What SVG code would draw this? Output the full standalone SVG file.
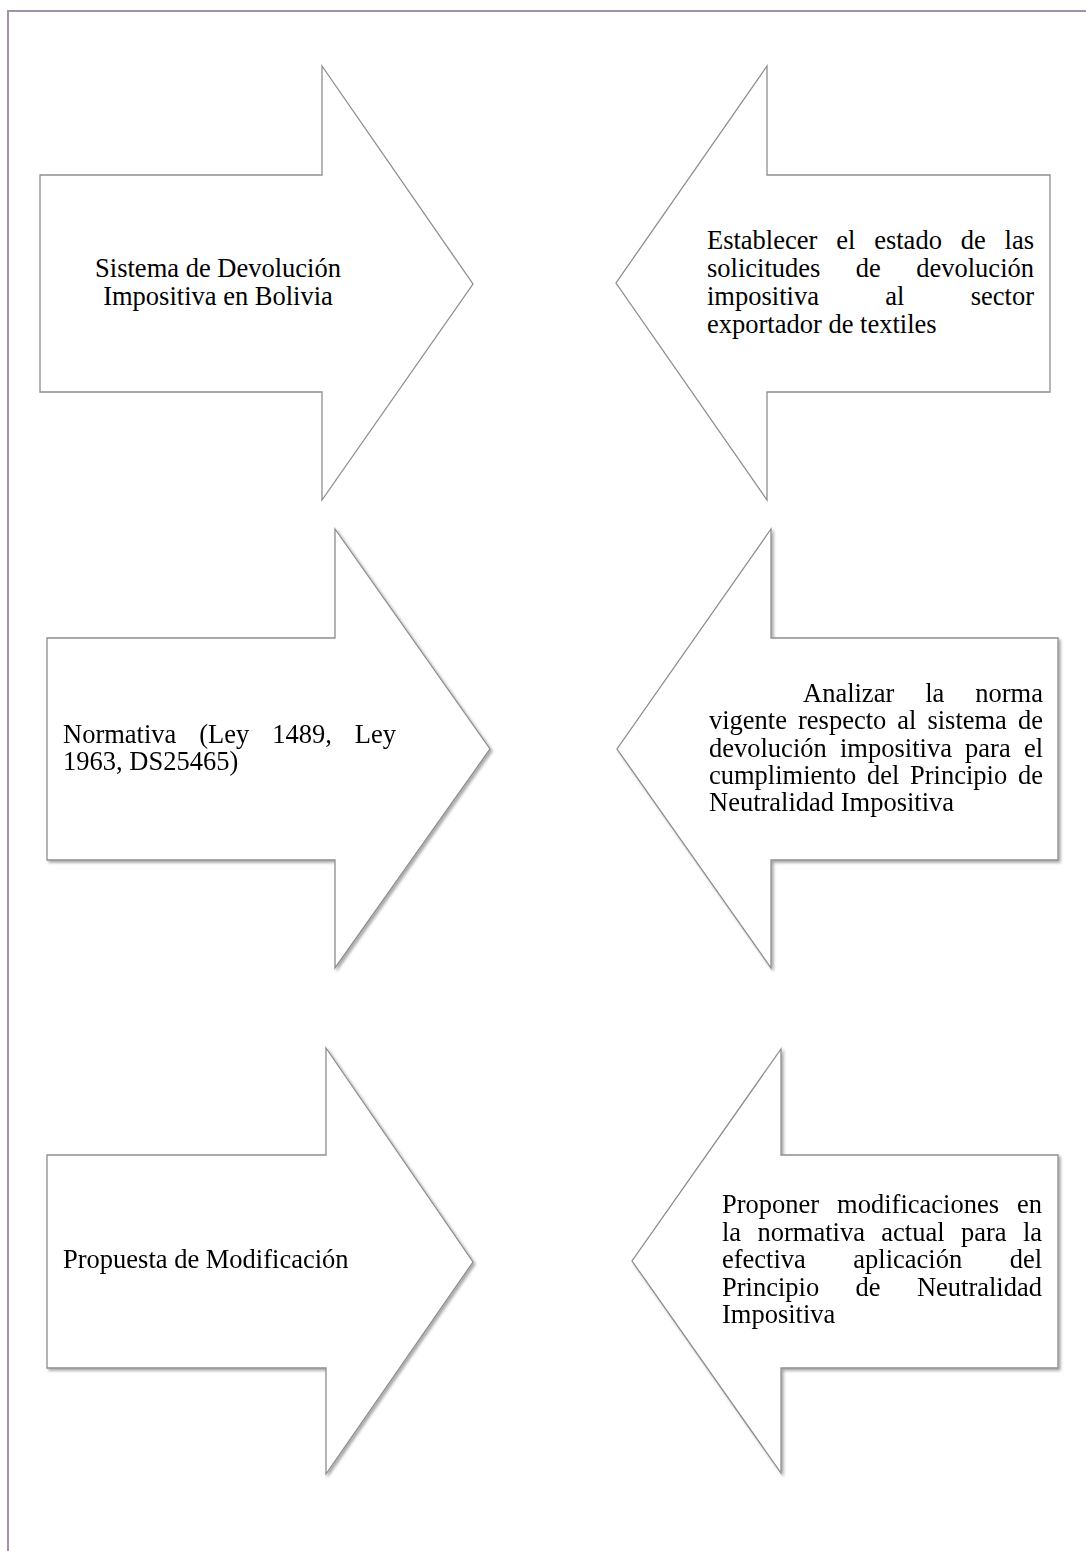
<svg xmlns="http://www.w3.org/2000/svg" width="1086" height="1551" viewBox="0 0 1086 1551">
<defs>
<style>
.arrow{fill:#ffffff;stroke:#8e8e8e;stroke-width:1.3;stroke-linejoin:miter}
.t{font-family:"Liberation Serif","Times New Roman",serif;font-size:26.5px;fill:#000}
.e{text-anchor:end}
.m{text-anchor:middle}
</style>
<filter id="sh" x="-5%" y="-5%" width="115%" height="115%">
<feGaussianBlur in="SourceAlpha" stdDeviation="1.5"/>
<feOffset dx="1.5" dy="2" result="b"/>
<feComponentTransfer><feFuncA type="linear" slope="0.35"/></feComponentTransfer>
<feMerge><feMergeNode/><feMergeNode in="SourceGraphic"/></feMerge>
</filter>
</defs>
<rect width="1086" height="1551" fill="#ffffff"/>
<path d="M8,1551 V11 H1086" fill="none" stroke="#a192a8" stroke-width="2"/>

<g id="connectors"></g>

<g id="node1">
<polygon class="arrow" points="40,175 322,175 322,66 473,284 322,500 322,392 40,392"/>
<text class="t m" x="218" y="277">Sistema de Devolución</text>
<text class="t m" x="218" y="305">Impositiva en Bolivia</text>
</g>

<g id="node2">
<polygon class="arrow" points="1050,175 767,175 767,66 616,283 767,500 767,392 1050,392"/>
<text class="t" y="249"><tspan x="707">Establecer</tspan><tspan x="836.3">el</tspan><tspan x="874.2">estado</tspan><tspan x="960.8">de</tspan></text>
<text class="t e" x="1034" y="249">las</text>
<text class="t" y="277"><tspan x="707">solicitudes</tspan><tspan x="855.8">de</tspan></text>
<text class="t e" x="1034" y="277">devolución</text>
<text class="t" y="305"><tspan x="707">impositiva</tspan><tspan x="885.3">al</tspan></text>
<text class="t e" x="1034" y="305">sector</text>
<text class="t" x="707" y="333">exportador de textiles</text>
</g>

<g id="node3" filter="url(#sh)">
<polygon class="arrow" points="47,638 335,638 335,529 490,749 335,968 335,860 47,860"/>
<text class="t" y="743"><tspan x="63">Normativa</tspan><tspan x="199.3">(Ley</tspan><tspan x="272.3">1489,</tspan></text>
<text class="t e" x="396" y="743">Ley</text>
<text class="t" x="63" y="770">1963, DS25465)</text>
</g>

<g id="node4" filter="url(#sh)">
<polygon class="arrow" points="1058,638 771,638 771,529 617,749 771,968 771,860 1058,860"/>
<text class="t" y="702"><tspan x="803">Analizar</tspan><tspan x="925.2">la</tspan></text>
<text class="t e" x="1043" y="702">norma</text>
<text class="t" y="729"><tspan x="709">vigente</tspan><tspan x="798">respecto</tspan><tspan x="897.3">al</tspan><tspan x="927.4">sistema</tspan></text>
<text class="t e" x="1043" y="729">de</text>
<text class="t" y="757"><tspan x="709">devolución</tspan><tspan x="840">impositiva</tspan><tspan x="965.1">para</tspan></text>
<text class="t e" x="1043" y="757">el</text>
<text class="t" y="784"><tspan x="709">cumplimiento</tspan><tspan x="866.9">del</tspan><tspan x="910">Principio</tspan></text>
<text class="t e" x="1043" y="784">de</text>
<text class="t" x="709" y="811">Neutralidad Impositiva</text>
</g>

<g id="node5" filter="url(#sh)">
<polygon class="arrow" points="47,1155 326,1155 326,1048 473,1262 326,1474 326,1368 47,1368"/>
<text class="t" x="63" y="1268">Propuesta de Modificación</text>
</g>

<g id="node6" filter="url(#sh)">
<polygon class="arrow" points="1058,1155 781,1155 781,1049 632,1261 781,1473 781,1368 1058,1368"/>
<text class="t" y="1213"><tspan x="722">Proponer</tspan><tspan x="837.1">modificaciones</tspan></text>
<text class="t e" x="1042" y="1213">en</text>
<text class="t" y="1241"><tspan x="722">la</tspan><tspan x="757.5">normativa</tspan><tspan x="881.3">actual</tspan><tspan x="961">para</tspan></text>
<text class="t e" x="1042" y="1241">la</text>
<text class="t" y="1268"><tspan x="722">efectiva</tspan><tspan x="853.3">aplicación</tspan></text>
<text class="t e" x="1042" y="1268">del</text>
<text class="t" y="1296"><tspan x="722">Principio</tspan><tspan x="855.6">de</tspan></text>
<text class="t e" x="1042" y="1296">Neutralidad</text>
<text class="t" x="722" y="1323">Impositiva</text>
</g>
</svg>
